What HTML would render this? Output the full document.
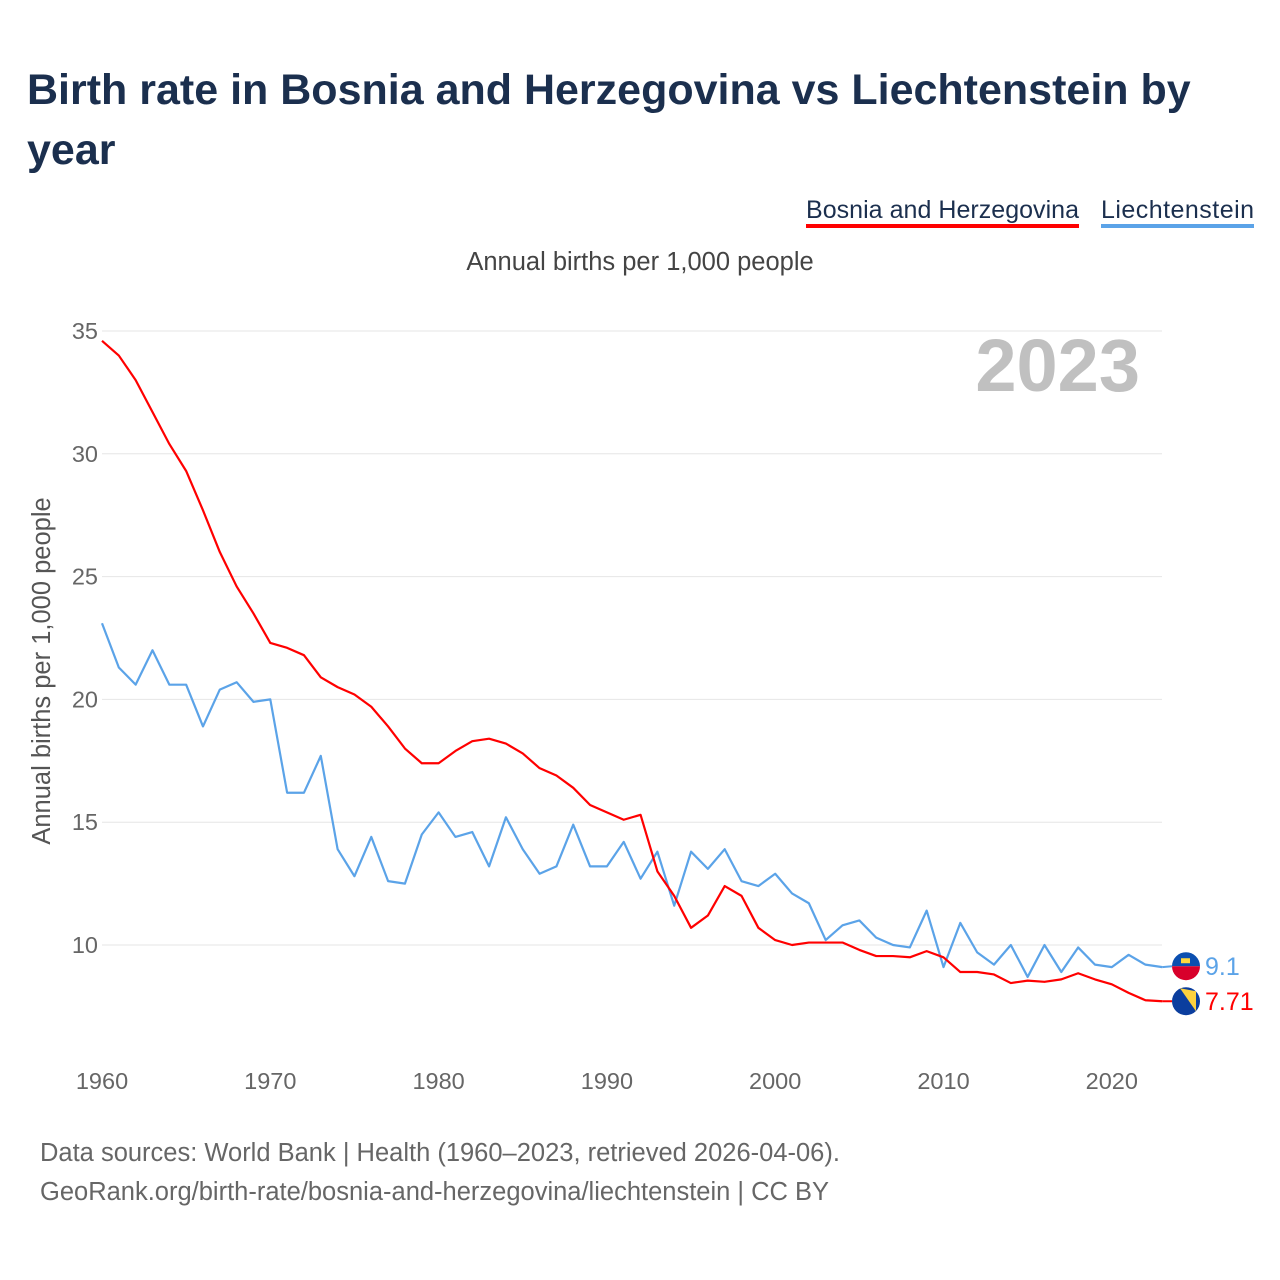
<!DOCTYPE html>
<html><head><meta charset="utf-8"><style>
body{margin:0;background:#fff;font-family:"Liberation Sans",sans-serif;}
svg{display:block}
</style></head><body>
<svg id="c" width="1280" height="1280">
<text x="27" y="104" font-size="43" font-weight="bold" fill="#1b2f4e">Birth rate in Bosnia and Herzegovina vs Liechtenstein by</text>
<text x="27" y="164" font-size="43" font-weight="bold" fill="#1b2f4e">year</text>
<g><text x="806" y="218" font-size="25" fill="#1b2f4e" textLength="273">Bosnia and Herzegovina</text><rect x="806" y="224" width="273" height="4" fill="#ff0000"/></g>
<g><text x="1101" y="218" font-size="25" fill="#1b2f4e" textLength="153">Liechtenstein</text><rect x="1101" y="224" width="153" height="4" fill="#5ba3e8"/></g>
<text x="640" y="270" font-size="25.5" fill="#444" text-anchor="middle">Annual births per 1,000 people</text>
<text x="1140" y="391" font-size="74" font-weight="bold" fill="#c0c0c0" text-anchor="end">2023</text>
<text transform="translate(50,671) rotate(-90)" font-size="25.5" fill="#555" text-anchor="middle">Annual births per 1,000 people</text>
<g id="grid"></g><g id="lines"></g><g id="ends"></g>
<text x="40" y="1161" font-size="25.5" fill="#666">Data sources: World Bank | Health (1960–2023, retrieved 2026-04-06).</text>
<text x="40" y="1200" font-size="25.5" fill="#666">GeoRank.org/birth-rate/bosnia-and-herzegovina/liechtenstein | CC BY</text>
</svg>
<script>
const years=[];for(let y=1960;y<=2023;y++)years.push(y);
const bosnia=[34.6,34.0,33.0,31.7,30.4,29.3,27.7,26.0,24.6,23.5,22.3,22.1,21.8,20.9,20.5,20.2,19.7,18.9,18.0,17.4,17.4,17.9,18.3,18.4,18.2,17.8,17.2,16.9,16.4,15.7,15.4,15.1,15.3,13.0,12.0,10.7,11.2,12.4,12.0,10.7,10.2,10.0,10.1,10.1,10.1,9.8,9.55,9.55,9.5,9.75,9.5,8.9,8.9,8.8,8.45,8.55,8.5,8.6,8.85,8.6,8.4,8.05,7.75,7.71];
const liech=[23.1,21.3,20.6,22.0,20.6,20.6,18.9,20.4,20.7,19.9,20.0,16.2,16.2,17.7,13.9,12.8,14.4,12.6,12.5,14.5,15.4,14.4,14.6,13.2,15.2,13.9,12.9,13.2,14.9,13.2,13.2,14.2,12.7,13.8,11.6,13.8,13.1,13.9,12.6,12.4,12.9,12.1,11.7,10.2,10.8,11.0,10.3,10.0,9.9,11.4,9.1,10.9,9.7,9.2,10.0,8.7,10.0,8.9,9.9,9.2,9.1,9.6,9.2,9.1];
const yTicks=[10,15,20,25,30,35];
const xTicks=[1960,1970,1980,1990,2000,2010,2020];
const X=y=>102+(y-1960)*16.83;
const Y=v=>945-(v-10)*24.56;
const NS="http://www.w3.org/2000/svg";
function mk(t,a,p){const e=document.createElementNS(NS,t);for(const k in a)e.setAttribute(k,a[k]);p.appendChild(e);return e;}
const g=document.getElementById('grid');
yTicks.forEach(v=>{
 const l=mk('line',{x1:102,x2:1162,y1:Y(v),y2:Y(v),stroke:'#e6e6e6','stroke-width':1},g);
 
 
 const t=mk('text',{x:98,y:Y(v)+8,'font-size':23.5,fill:'#666','text-anchor':'end'},g);t.textContent=v;
 
 
});
xTicks.forEach(v=>{
 const t=mk('text',{x:X(v),y:1089,'font-size':23.5,fill:'#666','text-anchor':'middle'},g);t.textContent=v;
 
 
});
const L=document.getElementById('lines');
function line(d,c,n){const p=mk('polyline',{points:d.map((v,i)=>X(years[i])+','+Y(v)).join(' '),fill:'none',stroke:c,'stroke-width':2.2,'stroke-linejoin':'round'},L);
 
 }
line(liech,'#5ba3e8','line-liechtenstein');
line(bosnia,'#ff0000','line-bosnia');
const E=document.getElementById('ends');
const lx=X(2023),ly=Y(liech[63]),by=Y(bosnia[63]);
const ly2=ly+20>by-15?Math.min(ly,by-35)+0:ly, by2=Math.max(by,ly2+35);
mk('line',{x1:lx,y1:ly,x2:1172,y2:ly2,stroke:'#5ba3e8','stroke-width':2},E);
mk('line',{x1:lx,y1:by,x2:1172,y2:by2,stroke:'#ff0000','stroke-width':2},E);
const f1=mk('g',{},E);


mk('path',{d:`M1172 ${ly2} a14 14 0 0 1 28 0z`,fill:'#0b4fb0'},f1);
mk('path',{d:`M1172 ${ly2} a14 14 0 0 0 28 0z`,fill:'#d8002b'},f1);
mk('rect',{x:1181,y:ly2-8,width:9,height:5,fill:'#ffd83d'},f1);
const f2=mk('g',{},E);


mk('circle',{cx:1186,cy:by2,r:14,fill:'#0b3e9e'},f2);
mk('path',{d:`M1180 ${by2-13} L1196 ${by2-10} L1196 ${by2+10} Z`,fill:'#fdd13e'},f2);
const t1=mk('text',{x:1205,y:ly2+9,'font-size':25,fill:'#5ba3e8'},E);t1.textContent=liech[63];


const t2=mk('text',{x:1205,y:by2+9,'font-size':25,fill:'#ff0000'},E);t2.textContent=bosnia[63];


</script>
</body></html>
